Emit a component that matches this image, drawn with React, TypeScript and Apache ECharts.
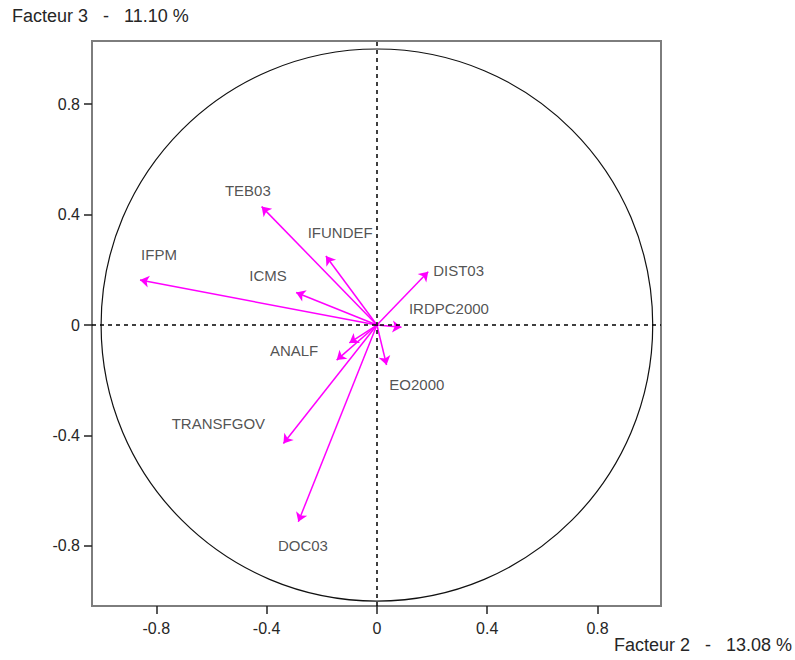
import React, { useEffect, useRef } from "react";
import * as echarts from "echarts";

// Variables (correlation circle, Facteur 2 x Facteur 3)
const variables = ["TEB03", "IFUNDEF", "IFPM", "ICMS", "ANALF", "TRANSFGOV", "DOC03", "EO2000", "DIST03", "IRDPC2000"];
const factor2 = [-0.418, -0.185, -0.859, -0.293, -0.146, -0.339, -0.285, 0.035, 0.186, 0.089];
const factor3 = [0.429, 0.25, 0.163, 0.118, -0.127, -0.429, -0.713, -0.145, 0.193, -0.008];
// label anchors (left-middle of each label, in axis units)
const labelX = [-0.551, -0.251, -0.855, -0.463, -0.388, -0.744, -0.359, 0.045, 0.204, 0.116];
const labelY = [0.486, 0.334, 0.254, 0.179, -0.091, -0.356, -0.797, -0.214, 0.196, 0.061];
// a short unlabeled vector hidden under ANALF
const hiddenF2 = [-0.1];
const hiddenF3 = [-0.065];

const tickValues = [-0.8, -0.4, 0, 0.4, 0.8];
const SP = "\u00a0\u00a0\u00a0";
const xTitle = `Facteur 2${SP}-${SP}13.08 %`;
const yTitle = `Facteur 3${SP}-${SP}11.10 %`;

const FONT = "'Liberation Sans', Arial, sans-serif";
const TEXT = "#262626";
const FRAME = "#7d7d7d";
const MAGENTA = "#ff00ff";

export default function App() {
  const ref = useRef<HTMLDivElement>(null);
  useEffect(() => {
    if (!ref.current) return;
    const chart = echarts.init(ref.current, null, { renderer: "svg" });
    const fmt = (v: number) => (Math.abs(v) < 1e-9 ? "0" : v.toFixed(1));
    const axisCommon = {
      type: "value",
      axisLine: { show: true, onZero: false, lineStyle: { color: FRAME, width: 2 } },
      axisTick: { show: true, inside: false, customValues: tickValues, length: 8, lineStyle: { color: "#222", width: 1.5 } },
      axisLabel: { show: true, customValues: tickValues, formatter: fmt, color: TEXT, fontSize: 16, fontFamily: FONT },
      splitLine: { show: false },
    };
    const arrowData = variables.map((n, i) => ({ name: n, coords: [[0, 0], [factor2[i], factor3[i]]] }));
    hiddenF2.forEach((v, i) => arrowData.push({ name: "", coords: [[0, 0], [v, hiddenF3[i]]] }));
    chart.setOption({
      animation: false,
      backgroundColor: "#ffffff",
      grid: { left: 92, top: 41, width: 569, height: 565, show: true, borderColor: FRAME, borderWidth: 2, backgroundColor: "transparent" },
      xAxis: { ...axisCommon, position: "bottom", min: -1.033, max: 1.03, axisLabel: { ...axisCommon.axisLabel, margin: 14 } },
      yAxis: { ...axisCommon, position: "left", min: -1.018, max: 1.029, axisLabel: { ...axisCommon.axisLabel, margin: 12 } },
      graphic: [
        { type: "text", left: 12, top: 7, style: { text: yTitle, fill: TEXT, font: `18px ${FONT}` } },
        { type: "text", right: 3, top: 636, style: { text: xTitle, fill: TEXT, font: `18px ${FONT}` } },
      ],
      series: [
        {
          type: "custom",
          coordinateSystem: "cartesian2d",
          data: [[0, 0]],
          silent: true,
          z: 1,
          renderItem: (params: any, api: any) => {
            const c = api.coord([0, 0]);
            const px = api.coord([1, 0]);
            const py = api.coord([0, 1]);
            return {
              type: "ellipse",
              shape: { cx: c[0], cy: c[1], rx: px[0] - c[0], ry: c[1] - py[1] },
              style: { fill: "none", stroke: "#111", lineWidth: 1.2 },
            };
          },
          markLine: {
            silent: true,
            symbol: "none",
            label: { show: false },
            lineStyle: { color: "#000", type: [4, 4], width: 1.5 },
            data: [{ xAxis: 0 }, { yAxis: 0 }],
          },
        },
        {
          type: "lines",
          coordinateSystem: "cartesian2d",
          z: 3,
          symbol: ["none", "arrow"],
          symbolSize: 9,
          lineStyle: { color: MAGENTA, width: 1.5, opacity: 1 },
          data: arrowData,
        },
        {
          type: "scatter",
          z: 4,
          symbolSize: 0,
          data: variables.map((n, i) => ({ name: n, value: [labelX[i], labelY[i]] })),
          label: {
            show: true,
            formatter: "{b}",
            position: [0, 0],
            align: "left",
            verticalAlign: "middle",
            color: TEXT,
            fontSize: 15,
            fontFamily: FONT,
          },
        },
      ],
    });
    return () => chart.dispose();
  }, []);
  return <div ref={ref} style={{ width: 795, height: 660, position: "absolute", left: 0, top: 0 }} />;
}
